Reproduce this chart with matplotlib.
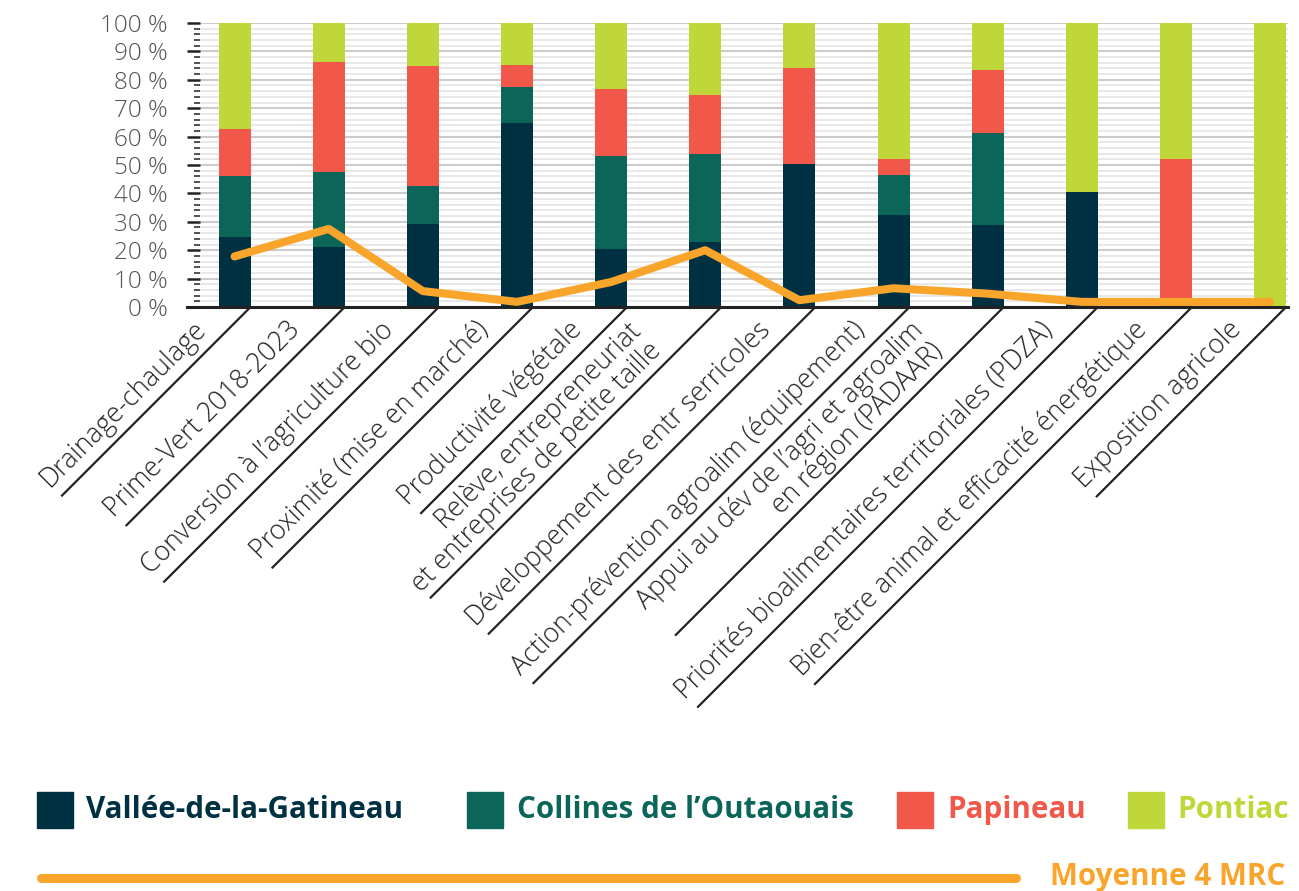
import numpy as np
import matplotlib
matplotlib.use('Agg')
import matplotlib.pyplot as plt
from matplotlib.lines import Line2D
from matplotlib.patches import Rectangle
from matplotlib.ticker import MultipleLocator, FuncFormatter

plt.rcParams['font.family'] = ['Open Sans', 'DejaVu Sans']

categories = [
    'Drainage-chaulage',
    'Prime-Vert 2018-2023',
    'Conversion à l\u2019agriculture bio',
    'Proximité (mise en marché)',
    'Productivité végétale',
    'Relève, entrepreneuriat\net entreprises de petite taille',
    'Développement des entr serricoles',
    'Action-prévention agroalim (équipement)',
    'Appui au dév de l\u2019agri et agroalim\nen région (PADAAR)',
    'Priorités bioalimentaires territoriales (PDZA)',
    'Bien-être animal et efficacité énergétique',
    'Exposition agricole',
]

series_names = ['Vallée-de-la-Gatineau', 'Collines de l\u2019Outaouais', 'Papineau', 'Pontiac']
vallee = [24.6, 21.1, 29.2, 64.8, 20.4, 22.8, 50.4, 32.4, 28.8, 40.5, 0, 0]
collines = [21.5, 26.4, 13.4, 12.7, 32.9, 31.1, 0, 14.1, 32.5, 0, 0, 0]
papineau = [16.6, 38.9, 42.3, 7.8, 23.5, 20.8, 33.8, 5.6, 22.2, 0, 52.1, 0]
pontiac = [37.3, 13.6, 15.1, 14.7, 23.2, 25.3, 15.8, 47.9, 16.5, 59.5, 47.9, 100]
moyenne = [17.8, 27.5, 5.6, 1.8, 8.8, 20.0, 2.4, 6.6, 4.7, 1.8, 1.8, 1.8]
line_name = 'Moyenne 4 MRC'

colors = ['#003143', '#0b6659', '#f2584a', '#c0d73a']
orange = '#f9a52b'

W, H = 1299, 891
fig = plt.figure(figsize=(W / 100, H / 100), dpi=100)


def fx(px):
    return px / W


def fy(py):
    return 1 - py / H


ax = fig.add_axes([fx(200), fy(307), fx(1288) - fx(200), fy(23) - fy(307)])

x = np.arange(len(categories))
bw = 0.34
bottom = np.zeros(len(categories))
for vals, c in zip([vallee, collines, papineau, pontiac], colors):
    ax.bar(x, vals, bw, bottom=bottom, color=c, zorder=2)
    bottom += np.array(vals)

ax.plot(x, moyenne, color=orange, lw=5.8, solid_joinstyle='round',
        solid_capstyle='round', zorder=4, clip_on=False)

ax.set_ylim(0, 100)
ax.set_xlim(-0.367, 11.19)
ax.yaxis.set_major_locator(MultipleLocator(10))
ax.yaxis.set_minor_locator(MultipleLocator(2))
ax.yaxis.set_major_formatter(FuncFormatter(lambda v, p: f'{int(v)} %'))
ax.tick_params(axis='y', which='major', length=9.4, width=1.8, color='#222222',
               labelsize=17.5, labelcolor='#555555', pad=14)
ax.tick_params(axis='y', which='minor', length=4.3, width=1.1, color='#222222')
ax.tick_params(axis='x', which='both', length=0, labelbottom=False)
for t in ax.get_yticklabels():
    t.set_fontweight('light')
ax.set_axisbelow(True)
ax.yaxis.grid(True, which='major', color='#cccccc', lw=1.5)
ax.yaxis.grid(True, which='minor', color='#e4e4e4', lw=1.2)
for sp in ax.spines.values():
    sp.set_visible(False)
ax.axhline(0, xmin=-13 / 1088, xmax=1, color='#222222', lw=2.2, clip_on=False, zorder=3)

# rotated category labels, each with a slanted underline from the bar edge
label_kw = dict(fontsize=19.2, color='#222222', fontweight='light', linespacing=1.0)
fig.canvas.draw()
renderer = fig.canvas.get_renderer()
c45 = np.cos(np.radians(45))
px2pt = 72 / fig.dpi
for i, lab in enumerate(categories):
    nlines = lab.count('\n') + 1
    s = 48 if nlines == 1 else 74
    g = 7 if nlines == 1 else 3
    dx = -(s + g) * c45
    dy = (g - s) * c45
    ax.annotate(lab, xy=(x[i] + bw / 2, 0), xycoords='data',
                xytext=(dx * px2pt, dy * px2pt), textcoords='offset points',
                rotation=45, rotation_mode='anchor', ha='right', va='bottom',
                multialignment='right', annotation_clip=False, **label_kw)
    tmp = fig.text(0, 0, lab, multialignment='right', **label_kw)
    w = tmp.get_window_extent(renderer).width
    tmp.remove()
    x0, y0 = ax.transData.transform((x[i] + bw / 2, 0))
    L = s + w - 3
    pts = ax.transData.inverted().transform([(x0, y0), (x0 - L * c45, y0 - L * c45)])
    ax.plot(pts[:, 0], pts[:, 1], color='#222222', lw=1.6, clip_on=False,
            solid_capstyle='butt', zorder=3)

# legend
sq_left = [37, 467, 897, 1128]
txt_left = [86, 517, 947, 1177]
for name, c, xs, xt in zip(series_names, colors, sq_left, txt_left):
    fig.add_artist(Rectangle((fx(xs), fy(828)), 36 / W, 36 / H,
                             transform=fig.transFigure, color=c))
    fig.text(fx(xt), fy(810), name, ha='left', va='center', fontsize=21.3,
             fontweight='bold', color=c)

fig.add_artist(Line2D([fx(41), fx(1016)], [fy(878), fy(878)], transform=fig.transFigure,
                      lw=6.5, color=orange, solid_capstyle='round'))
fig.text(fx(1285), fy(877), line_name, ha='right', va='center', fontsize=21.3,
         fontweight='bold', color=orange)

fig.savefig('out.png', dpi=100)
